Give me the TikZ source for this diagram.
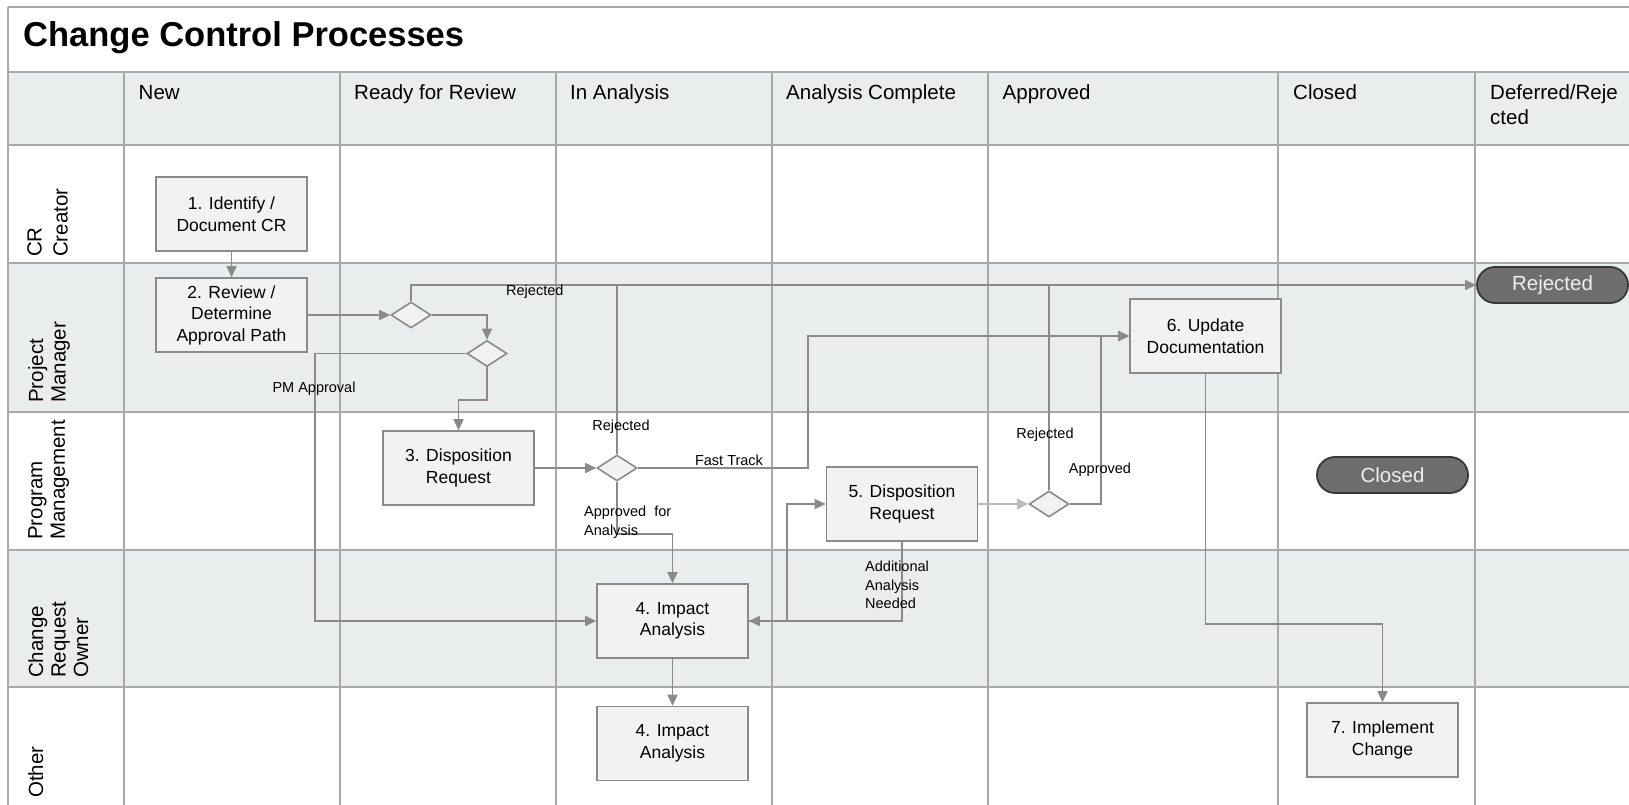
\documentclass[tikz,border=0pt]{standalone}
\usepackage{fontspec}
\setmainfont{Liberation Sans}
\usetikzlibrary{arrows.meta,shapes.geometric,shapes.misc}
\definecolor{gridc}{HTML}{A8AAAA}
\definecolor{lanegray}{HTML}{EAEDED}
\definecolor{boxfill}{HTML}{F2F2F2}
\definecolor{boxline}{HTML}{8A8A8A}
\definecolor{conncol}{HTML}{8A8A8A}
\definecolor{connlight}{HTML}{BBBBBB}
\definecolor{ovalfill}{HTML}{6E6E6E}
\definecolor{ovalline}{HTML}{383838}
\definecolor{ovaltext}{HTML}{EEEEEE}
\tikzset{
  gridline/.style={draw=gridc, line width=1.8pt},
  procbox/.style={draw=boxline, fill=boxfill, line width=1.6pt, minimum width=151pt,
    minimum height=74pt, align=center, inner sep=0pt,
    font=\fontsize{17.5}{21.5}\selectfont},
  decision/.style={diamond, draw=boxline, fill=boxfill, line width=1.6pt,
    minimum width=40pt, minimum height=26pt, inner sep=0pt},
  term/.style={rounded rectangle, draw=ovalline, fill=ovalfill, line width=1.8pt,
    minimum width=151pt, minimum height=36pt, inner sep=0pt, text=ovaltext,
    font=\fontsize{20.5}{24}\selectfont},
  flow/.style={draw=conncol, line width=1.6pt},
  arr/.style={flow, -{Triangle[length=11pt,width=10pt]}},
  lightarr/.style={draw=connlight, line width=1.6pt, -{Triangle[length=11pt,width=10pt]}},
  flowlbl/.style={inner sep=0pt, align=left, font=\fontsize{14.5}{18.5}\selectfont},
  colhead/.style={anchor=base west, inner sep=0pt, align=left, font=\fontsize{20.5}{25}\selectfont},
  lanehead/.style={rotate=90, anchor=north west, inner sep=0pt, align=left,
    font=\fontsize{20.5}{22.5}\selectfont},
}
\begin{document}
\begin{tikzpicture}[x=1pt,y=-1pt]
\useasboundingbox (0,0) rectangle (1629,805);
% background fills
\fill[white] (0,0) rectangle (1629,805);
\fill[lanegray] (8,72) rectangle (1629,145);
\fill[lanegray] (8,263) rectangle (1629,412);
\fill[lanegray] (8,550) rectangle (1629,687);
% horizontal grid lines
\foreach \yy in {7,72,145,263,412,550,687}
  \draw[gridline] (8,\yy) -- (1629,\yy);
% vertical grid lines
\draw[gridline] (8,7) -- (8,805);
\foreach \xx in {124,340,556,772,988,1278,1475}
  \draw[gridline] (\xx,72) -- (\xx,805);

% title
\node[anchor=base west, inner sep=0pt, font=\fontsize{34.5}{40}\selectfont\bfseries] (title) at (23,47) {Change Control Processes};

% column headers
\node[colhead] (hNew) at (138.5,100) {New};
\node[colhead] (hReady) at (354,100) {Ready for Review};
\node[colhead] (hIn) at (570,100) {In Analysis};
\node[colhead] (hAC) at (786,100) {Analysis Complete};
\node[colhead] (hApp) at (1002.5,100) {Approved};
\node[colhead] (hClosed) at (1293,100) {Closed};
\node[colhead] (hDef) at (1490,125) {Deferred/Reje\\cted};

% lane headers
\node[lanehead, font=\fontsize{20.5}{26}\selectfont] (lCR) at (27,257) {CR\\Creator};
\node[lanehead] (lPM) at (28,403) {Project\\Manager};
\node[lanehead] (lPG) at (28,540) {Program\\Management};
\node[lanehead] (lCO) at (28,678) {Change\\Request\\Owner};
\node[lanehead] (lOT) at (28,798) {Other};

% process boxes
\node[procbox] (b1) at (231.5,214) {1. Identify /\\Document CR};
\node[procbox] (b2) at (231.5,315) {2. Review /\\Determine\\Approval Path};
\node[procbox] (b3) at (458.5,468) {3. Disposition\\Request};
\node[procbox] (b4) at (672.5,621) {4. Impact\\Analysis};
\node[procbox] (b4b) at (672.5,743.5) {4. Impact\\Analysis};
\node[procbox] (b5) at (902,504) {5. Disposition\\Request};
\node[procbox] (b6) at (1205.5,336) {6. Update\\Documentation};
\node[procbox] (b7) at (1382.5,740) {7. Implement\\Change};

% decisions
\node[decision] (d1) at (411,315) {};
\node[decision] (d2) at (487,353.5) {};
\node[decision] (d3) at (617,468) {};
\node[decision] (d4) at (1049,504) {};

% terminals
\node[term] (rej) at (1552.5,285) {Rejected};
\node[term] (closed) at (1392.5,475) {Closed};

% connectors
\draw[arr] (b1.south) -- (b2.north);
\draw[arr] (b2.east) -- (d1.west);
\draw[arr] (d1.east) -| (d2.north);
\draw[arr] (d1.north) |- (rej.west);
\draw[flow] (d3.north) -- (d3.north |- rej.west);
\draw[flow] (d4.north) -- (d4.north |- rej.west);
\draw[arr] (d2.west) -- ++(-151,0) |- (b4.west);
\draw[arr] (d2.south) -- ++(0,32.5) -| (b3.north);
\draw[arr] (b3.east) -- (d3.west);
\draw[arr] (d3.east) -- ++(170,0) |- (b6.west);
\draw[arr] (d3.south) -- ++(0,52) -| (b4.north);
\draw[arr] (b4.south) -- (b4b.north);
\draw[arr] (b4.east) -- ++(38,0) |- (b5.west);
\draw[arr] (b5.south) |- (b4.east);
\draw[lightarr] (b5.east) -- (d4.west);
\draw[arr] (d4.east) -- ++(31,0) |- (b6.west);
\draw[arr] (b6.south) -- ++(0,250) -| (b7.north);

% connector labels
\node[flowlbl, anchor=west] (lRej1) at (506,292) {Rejected};
\node[flowlbl] (lRej2) at (621,427) {Rejected};
\node[flowlbl] (lRej3) at (1045,435) {Rejected};
\node[flowlbl] (lPMA) at (314,389) {PM Approval};
\node[flowlbl] (lFT) at (729,460) {Fast Track};
\node[flowlbl, anchor=north west] (lAFA) at (584,506) {Approved\ \ for\\Analysis};
\node[flowlbl, anchor=north west] (lAAN) at (865,561) {Additional\\Analysis\\Needed};
\node[flowlbl] (lApp) at (1100,470) {Approved};
\end{tikzpicture}
\end{document}
